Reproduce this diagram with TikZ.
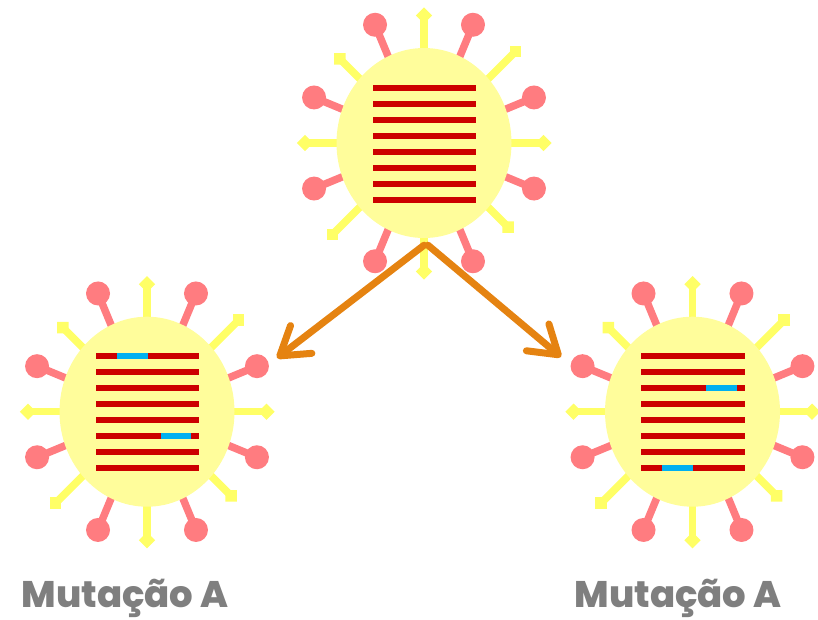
\documentclass[tikz,border=0pt]{standalone}
\usepackage{fontspec}
\newfontfamily\labelfont{Poppins}[UprightFont=* ExtraBold]
\usetikzlibrary{shapes.geometric,arrows.meta}

\definecolor{bodyyellow}{HTML}{FFFD9B}
\definecolor{spikeyellow}{HTML}{FFFF66}
\definecolor{spikepink}{HTML}{FF7C80}
\definecolor{genered}{HTML}{CC0000}
\definecolor{mutblue}{HTML}{00B0F0}
\definecolor{arroworange}{HTML}{E58311}
\definecolor{labelgray}{HTML}{7F7F7F}

\tikzset{
  envelope/.style={ellipse, fill=bodyyellow, minimum width=175pt, minimum height=190pt, inner sep=0pt},
  stalk/.style={line width=7.5pt},
  branch/.style={arroworange, line width=7pt, line cap=round,
    -{Straight Barb[length=27pt, width=35pt, round]}},
  caption/.style={text=labelgray, font=\labelfont\fontsize{37}{40}\selectfont, anchor=base, inner sep=0pt},
  % one virus particle: spikes, envelope and eight RNA strands
  virus/.pic={
    % yellow spikes ending in a small diamond (visual angle / distance)
    \foreach \a/\d in {90/128.5, 45/119, 0/119.5, -45/129.5, -90/127.5, -135/119, 180/119, 135/129.5}{
      \begin{scope}[rotate=-\a]
        \draw[stalk, spikeyellow] (0,0) -- (\d,0);
        \fill[spikeyellow] (\d+8.2,0) -- (\d,8.2) -- (\d-8.2,0) -- (\d,-8.2) -- cycle;
      \end{scope}
    }
    % pink spikes ending in a ball
    \foreach \a/\d in {67.5/128, 22.5/119, -22.5/119, -67.5/128, -112.5/128, -157.5/119, 157.5/119, 112.5/128}{
      \begin{scope}[rotate=-\a]
        \draw[stalk, spikepink] (0,0) -- (\d,0);
        \fill[spikepink] (\d,0) circle[radius=12];
      \end{scope}
    }
    \node[envelope] (-body) at (0,0) {};
    \foreach \k in {0,...,7}{
      \fill[genered] (-51.5,-58.5+16*\k) rectangle (52,-52.5+16*\k);
    }
  }
}

\begin{document}
\begin{tikzpicture}[x=1pt, y=-1pt]
  \useasboundingbox (0,0) rectangle (818,619);

  \pic (top)   at (424,143)   {virus};
  \pic (left)  at (147,411.7) {virus};
  \pic (right) at (692.5,411.7) {virus};

  % mutated segments of the strands
  \begin{scope}[shift={(147,411.7)}]
    \fill[mutblue] (-30.5,-58.5) rectangle (0.5,-52.5);
    \fill[mutblue] (14,-58.5+80) rectangle (44,-52.5+80);
  \end{scope}
  \begin{scope}[shift={(692.5,411.7)}]
    \fill[mutblue] (13.5,-58.5+32) rectangle (44,-52.5+32);
    \fill[mutblue] (-30.5,-58.5+112) rectangle (0.5,-52.5+112);
  \end{scope}

  % branching arrows
  \coordinate (tipL) at (277,358);
  \coordinate (tipR) at (561,357);
  \draw[branch] ([yshift=-7pt]top-body.south) -- (tipL);
  \draw[branch] ([xshift=4pt,yshift=-7pt]top-body.south) -- (tipR);

  % captions
  \node[caption] (capL) at (125,607) {Mutação A};
  \node[caption] (capR) at (678,607) {Mutação A};
\end{tikzpicture}
\end{document}
